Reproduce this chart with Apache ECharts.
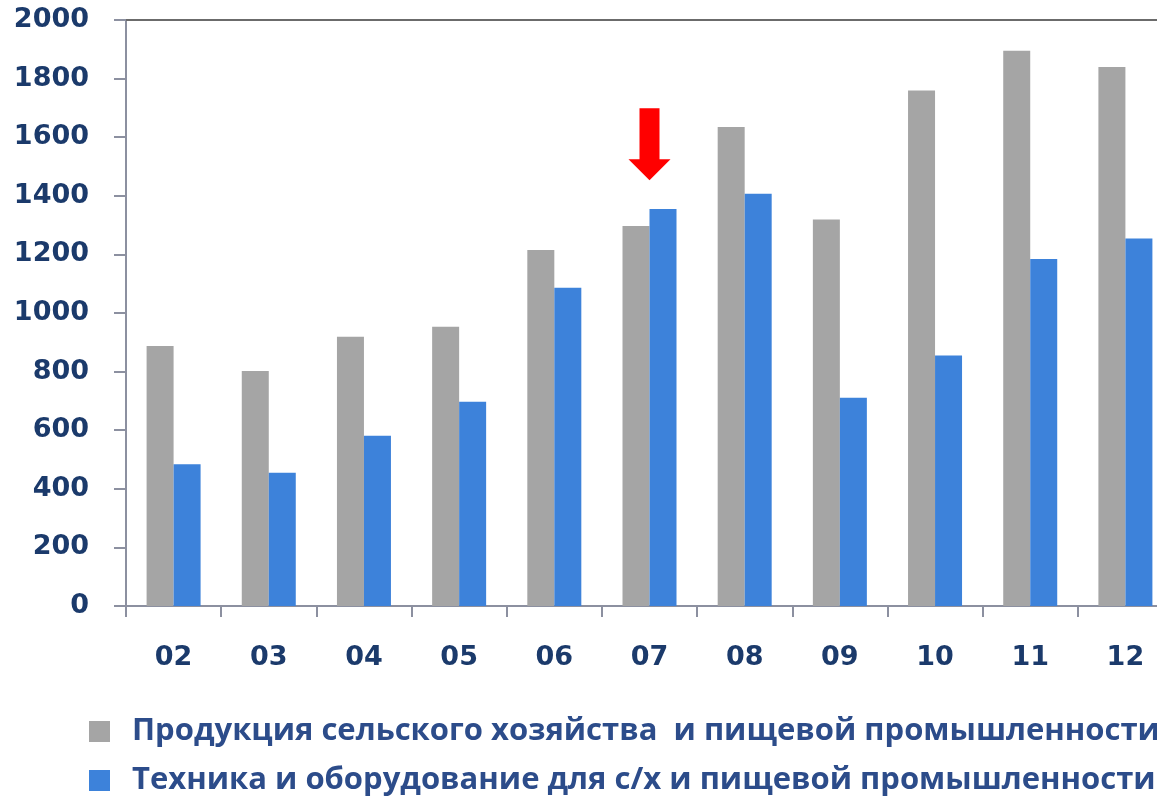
<!DOCTYPE html>
<html>
<head>
<meta charset="utf-8">
<script src="https://cdn.jsdelivr.net/npm/echarts@6/dist/echarts.min.js"></script>
<style>html,body{margin:0;padding:0;background:#fff;overflow:hidden;width:1157px;height:807px;}#c{width:1173px;height:807px;}</style>
</head>
<body>
<div id="c"></div>
<script>
const categories = ['02','03','04','05','06','07','08','09','10','11','12'];
const seriesNames = ['Продукция сельского хозяйства  и пищевой промышленности', 'Техника и оборудование для с/х и пищевой промышленности'];
const agriFood = [887, 802, 919, 953, 1215, 1297, 1635, 1319, 1759, 1895, 1840];
const machinery = [484, 455, 581, 697, 1086, 1355, 1407, 711, 855, 1184, 1254];
const yTicks = {min: 0, max: 2000, interval: 200};
const arrowAt = {category: '07', value: 1576};

const navy = '#1B3A6B';
const axisGray = '#8C90A0';
const legendText = {fontFamily: 'Open Sans', fontWeight: 'bold', fontSize: 31, color: '#2C4C8A', padding: [0,0,0,17]};
const chart = echarts.init(document.getElementById('c'), null, {renderer: 'canvas'});
chart.setOption({
  animation: false,
  backgroundColor: '#fff',
  grid: {left: 126, right: 0, top: 20, bottom: 201, containLabel: false},
  legend: [
    {orient: 'horizontal', left: 89, top: 716, padding: 0, itemWidth: 21, itemHeight: 21, icon: 'rect',
     textStyle: legendText, data: [seriesNames[0]]},
    {orient: 'horizontal', left: 89, top: 765, padding: 0, itemWidth: 21, itemHeight: 21, icon: 'rect',
     textStyle: legendText, data: [seriesNames[1]]}
  ],
  xAxis: {
    type: 'category', data: categories,
    axisLine: {lineStyle: {color: axisGray, width: 2}},
    axisTick: {show: true, length: 11, lineStyle: {color: axisGray, width: 2}},
    axisLabel: {margin: 38, color: navy, fontFamily: 'DejaVu Sans', fontWeight: 'bold', fontSize: 27}
  },
  yAxis: {
    type: 'value', min: yTicks.min, max: yTicks.max, interval: yTicks.interval,
    axisLine: {show: true, lineStyle: {color: axisGray, width: 2}},
    axisTick: {show: true, length: 12, lineStyle: {color: axisGray, width: 2}},
    splitLine: {show: false},
    axisLabel: {margin: 37, color: navy, fontFamily: 'DejaVu Sans', fontWeight: 'bold', fontSize: 27,
      formatter: v => String(v)}
  },
  series: [
    {
      name: seriesNames[0], type: 'bar', data: agriFood, barWidth: 27, barGap: '0%',
      itemStyle: {color: '#A5A5A5'},
      markPoint: {
        symbol: 'path://M11,0 L31,0 L31,51 L42,51 L21,72 L0,51 L11,51 Z',
        symbolSize: [42, 72],
        symbolOffset: [13.5, 0],
        itemStyle: {color: '#FF0000'},
        label: {show: false},
        data: [{coord: [arrowAt.category, arrowAt.value]}]
      },
      markLine: {
        silent: true, symbol: 'none', label: {show: false},
        lineStyle: {color: '#6B6B6B', width: 2, type: 'solid'},
        data: [{yAxis: yTicks.max}]
      }
    },
    {
      name: seriesNames[1], type: 'bar', data: machinery, barWidth: 27, barGap: '0%',
      itemStyle: {color: '#3D82DA'}
    }
  ]
});
</script>
</body>
</html>
